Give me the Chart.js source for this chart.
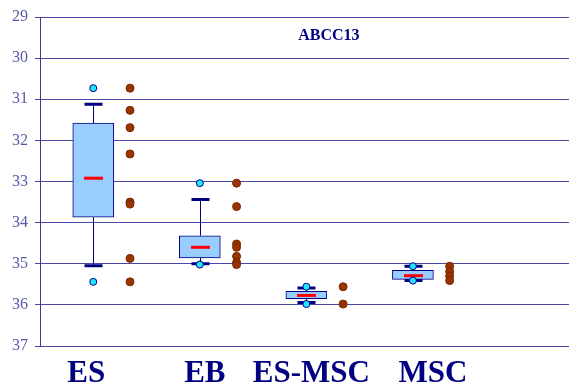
<!DOCTYPE html>
<html>
<head>
<meta charset="utf-8">
<script src="https://cdn.jsdelivr.net/npm/chart.js@4/dist/chart.umd.min.js"></script>
<style>
  html, body { margin: 0; padding: 0; background: #ffffff; }
  canvas { display: block; }
</style>
</head>
<body>
<canvas id="chart" width="574" height="387"></canvas>
<script>
// ABCC13 Ct values per cell type
const categories = ['ES', 'EB', 'ES-MSC', 'MSC'];
const boxLow      = [31.58, 34.32, 35.67, 35.16];  // box edge nearest the top
const boxHigh     = [33.87, 34.86, 35.85, 35.38];  // box edge nearest the bottom
const medians     = [32.92, 34.60, 35.77, 35.29];
const whiskerLow  = [31.12, 33.44, 35.59, 35.06];
const whiskerHigh = [35.05, 35.00, 35.94, 35.41];
const minValues   = [30.73, 33.04, 35.56, 35.06];
const maxValues   = [35.44, 35.02, 35.98, 35.41];
const samples = [
  [30.73, 31.27, 31.69, 32.33, 33.50, 33.55, 34.87, 35.44],
  [33.04, 33.61, 34.52, 34.60, 34.82, 34.97, 35.02],
  [35.56, 35.98],
  [35.06, 35.19, 35.30, 35.41]
];
const yTicks = [29, 30, 31, 32, 33, 34, 35, 36, 37];
const chartTitle = 'ABCC13';

const NAVY = '#000080';
const sampleShift = 0.345;              // samples sit to the right of each box
const labelShift = [-7, 5, 5, 20];      // pixel nudges for the category captions

const boxPoints = categories.map((c, i) => ({ x: i, y: [boxLow[i], boxHigh[i]] }));
const extremePoints = [];
categories.forEach((c, i) => {
  extremePoints.push({ x: i, y: minValues[i] });
  extremePoints.push({ x: i, y: maxValues[i] });
});
const samplePoints = [];
samples.forEach((list, i) => list.forEach(v => samplePoints.push({ x: i + sampleShift, y: v })));

// whiskers, caps and medians drawn right after the boxes, before the points
const boxDecor = {
  id: 'boxDecor',
  afterDatasetDraw(chart, args) {
    if (args.index !== 2) return;
    const { ctx, scales: { x, y } } = chart;
    ctx.save();
    categories.forEach((c, i) => {
      const cx = Math.round(x.getPixelForValue(i)) + 0.5;
      const yTop = y.getPixelForValue(boxLow[i]);
      const yBot = y.getPixelForValue(boxHigh[i]);
      const wLo = y.getPixelForValue(whiskerLow[i]);
      const wHi = y.getPixelForValue(whiskerHigh[i]);
      ctx.strokeStyle = NAVY;
      ctx.lineWidth = 1;
      ctx.beginPath();
      ctx.moveTo(cx, yTop); ctx.lineTo(cx, wLo);
      ctx.moveTo(cx, yBot); ctx.lineTo(cx, wHi);
      ctx.stroke();
      ctx.lineWidth = 3;
      ctx.beginPath();
      ctx.moveTo(cx - 9, wLo); ctx.lineTo(cx + 9, wLo);
      ctx.moveTo(cx - 9, wHi); ctx.lineTo(cx + 9, wHi);
      ctx.stroke();
      const m = y.getPixelForValue(medians[i]);
      ctx.strokeStyle = '#ff0000';
      ctx.lineWidth = 3;
      ctx.beginPath();
      ctx.moveTo(cx - 9.5, m); ctx.lineTo(cx + 9.5, m);
      ctx.stroke();
    });
    ctx.restore();
  }
};

// chart caption and category names
const captions = {
  id: 'captions',
  afterDraw(chart) {
    const { ctx, chartArea, scales: { x } } = chart;
    ctx.save();
    ctx.fillStyle = NAVY;
    ctx.textAlign = 'center';
    ctx.textBaseline = 'alphabetic';
    ctx.font = 'bold 16px "Liberation Serif", serif';
    ctx.fillText(chartTitle, chartArea.left + chartArea.width * 0.546, chartArea.top + 22.5);
    ctx.font = 'bold 31px "Liberation Serif", serif';
    categories.forEach((c, i) => {
      ctx.fillText(c, x.getPixelForValue(i) + labelShift[i], chartArea.bottom + 35.5);
    });
    ctx.restore();
  }
};

new Chart(document.getElementById('chart'), {
  data: {
    datasets: [
      {
        type: 'scatter',
        data: extremePoints,
        pointRadius: 3.5,
        pointBackgroundColor: '#22e6ff',
        pointBorderColor: NAVY,
        pointBorderWidth: 1,
        clip: false
      },
      {
        type: 'scatter',
        data: samplePoints,
        pointRadius: 4,
        pointBackgroundColor: '#993300',
        pointBorderColor: '#7a2600',
        pointBorderWidth: 1,
        clip: false
      },
      {
        type: 'bar',
        data: boxPoints,
        backgroundColor: '#99ccff',
        borderColor: NAVY,
        borderWidth: 1,
        borderSkipped: false,
        barThickness: 41
      }
    ]
  },
  options: {
    responsive: false,
    devicePixelRatio: 1,
    animation: false,
    layout: { padding: { top: 17, right: 1, bottom: 41, left: 0 } },
    plugins: { legend: { display: false }, tooltip: { enabled: false } },
    scales: {
      x: {
        type: 'linear',
        min: -0.5,
        max: 4.465,
        offset: false,
        display: false
      },
      y: {
        type: 'linear',
        reverse: true,
        min: 29,
        max: 37,
        afterFit(scale) { scale.width = 40; },
        afterBuildTicks(scale) { scale.ticks = yTicks.map(v => ({ value: v })); },
        ticks: {
          color: '#5a5aaa',
          padding: 7,
          font: { family: '"Liberation Serif", serif', size: 16 }
        },
        grid: {
          color: '#4a4aa6',
          lineWidth: 1,
          tickLength: 5
        },
        border: { display: true, color: '#3a3a9a', width: 1 }
      }
    }
  },
  plugins: [boxDecor, captions]
});
</script>
</body>
</html>
